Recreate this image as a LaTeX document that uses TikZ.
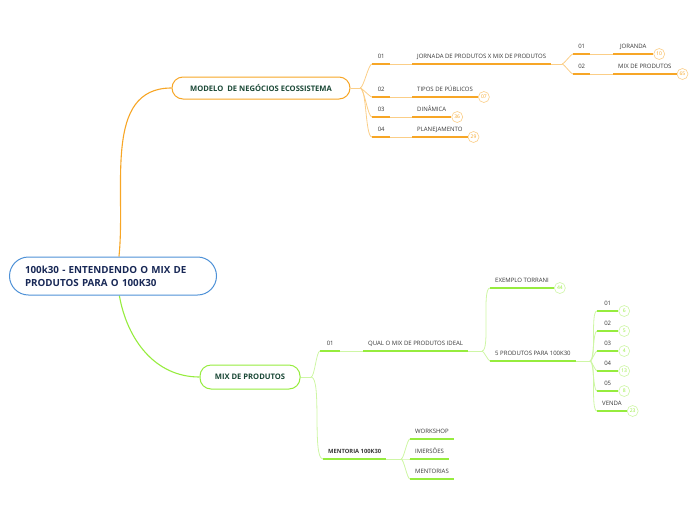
\documentclass[tikz,border=0pt]{standalone}
\usepackage{fontspec}
\setmainfont{Open Sans}
\usetikzlibrary{positioning}
\definecolor{orgline}{RGB}{247,166,38}
\definecolor{orglight}{RGB}{251,206,135}
\definecolor{grnline}{RGB}{150,236,62}
\definecolor{grnlight}{RGB}{206,246,165}
\definecolor{rootblue}{RGB}{78,145,215}
\definecolor{rootnavy}{RGB}{24,40,86}
\definecolor{boxgreen}{RGB}{26,72,54}
\definecolor{lbltext}{RGB}{55,55,55}
\pgfdeclarelayer{bg}
\pgfsetlayers{bg,main}
\begin{document}
\begin{tikzpicture}[
    x=1pt, y=-1pt,
    rootbox/.style={draw=rootblue, line width=1pt, rounded corners=19pt,
                    fill=white, align=left, text=rootnavy, text width=176pt,
                    minimum width=207pt, minimum height=38pt,
                    font=\bfseries\fontsize{9.8}{12.8}\selectfont},
    mainbox/.style={line width=1pt, rounded corners=11pt, fill=white,
                    text=boxgreen, minimum height=22pt,
                    font=\bfseries\fontsize{7.6}{9}\selectfont},
    lbl/.style={anchor=south west, inner xsep=5pt, inner ysep=5pt,
                text depth=0pt, text=lbltext,
                font=\fontsize{6}{7}\selectfont},
    cnto/.style={circle, draw=orglight, fill=white, text=orgline,
                 line width=.6pt, inner sep=0pt, minimum size=11pt,
                 anchor=west, font=\fontsize{5}{6}\selectfont},
    cntg/.style={cnto, draw=grnlight, text=grnline},
    ulo/.style={orgline, line width=1.6pt},
    ulg/.style={grnline, line width=1.6pt},
    lko/.style={orglight, line width=.8pt},
    lkg/.style={grnlight, line width=.8pt},
    fano/.style={orglight, line width=.8pt, looseness=.35},
    fang/.style={grnlight, line width=.8pt, looseness=.35},
]
\useasboundingbox (0,0) rectangle (696,520);

% Central topic and main branches
\node[rootbox] (root) at (113,276) {100k30 - ENTENDENDO O MIX DE\\PRODUTOS PARA O 100K30};
\node[mainbox, draw=orgline, minimum width=178pt] (modelo) at (261,88) {MODELO\ \ DE NEGÓCIOS ECOSSISTEMA};
\node[mainbox, draw=grnline, minimum width=100pt, minimum height=24pt] (mix) at (250,377) {MIX DE PRODUTOS};

% Orange branch
\coordinate (fanM) at (360,88);
\node[lbl, minimum width=18pt] (o1) at (372,64) {01};
\node[lbl] (jornada) at (412,64) {JORNADA DE PRODUTOS X MIX DE PRODUTOS};
\coordinate (fanJ) at (562,64);
\node[lbl, minimum width=17pt] (o11) at (573,54) {01};
\node[lbl, minimum width=40pt] (joranda) at (613,54) {JORANDA};
\node[cnto] (cjoranda) at (joranda.south east) {10};
\node[lbl, minimum width=17pt] (o12) at (573,74) {02};
\node[lbl] (mixprod) at (613,74) {MIX DE PRODUTOS};
\node[cnto] (cmixprod) at (mixprod.south east) {65};
\node[lbl, minimum width=18pt] (o2) at (372,97) {02};
\node[lbl] (tipos) at (412,97) {TIPOS DE PÚBLICOS};
\node[cnto] (ctipos) at (tipos.south east) {07};
\node[lbl, minimum width=18pt] (o3) at (372,117) {03};
\node[lbl] (dinamica) at (412,117) {DINÂMICA};
\node[cnto] (cdinamica) at (dinamica.south east) {36};
\node[lbl, minimum width=18pt] (o4) at (372,137) {04};
\node[lbl] (planej) at (412,137) {PLANEJAMENTO};
\node[cnto] (cplanej) at (planej.south east) {29};

% Green branch
\coordinate (fanX) at (311,377);
\node[lbl, minimum width=20pt] (g1) at (320,351) {01};
\node[lbl] (qual) at (363,351) {QUAL O MIX DE PRODUTOS IDEAL};
\coordinate (fanQ) at (482,351);
\node[lbl] (torrani) at (490,288) {EXEMPLO TORRANI};
\node[cntg] (ctorrani) at (torrani.south east) {44};
\node[lbl] (cinco) at (490,361) {5 PRODUTOS PARA 100K30};
\coordinate (fanP) at (590,361);
\foreach \i/\t/\c in {1/01/6, 2/02/5, 3/03/4, 4/04/13, 5/05/8, 6/VENDA/23} {
  \node[lbl, minimum width=21pt] (k\i) at (597,291+20*\i) {\t};
  \node[cntg] (ck\i) at (k\i.south east) {\c};
}
\node[lbl, font=\bfseries\fontsize{5.8}{7}\selectfont] (mentoria) at (323,459) {MENTORIA 100K30};
\coordinate (fanT) at (401,459);
\node[lbl] (workshop) at (410,439) {WORKSHOP};
\node[lbl] (imersoes) at (410,459) {IMERSÕES};
\node[lbl] (mentorias) at (410,479) {MENTORIAS};

\begin{pgfonlayer}{bg}
% Main connectors
\draw[orgline, line width=1.1pt] (root.73) to[out=84, in=180] (modelo.west);
\draw[grnline, line width=1.1pt] (root.-72) to[out=-80, in=180] (mix.west);

% Orange fans and links
\draw[fano] (modelo.east) -- (fanM);
\foreach \n in {o1,o2,o3,o4}
  \draw[fano] (fanM) to[out=0, in=180] (\n.south west);
\foreach \a/\b in {o1/jornada, o2/tipos, o3/dinamica, o4/planej, o11/joranda, o12/mixprod}
  \draw[lko] (\a.south east) -- (\b.south west);
\draw[fano] (jornada.south east) -- (fanJ);
\foreach \n in {o11,o12}
  \draw[fano] (fanJ) to[out=0, in=180] (\n.south west);

% Green fans and links
\draw[fang] (mix.east) -- (fanX);
\foreach \n in {g1,mentoria}
  \draw[fang] (fanX) to[out=0, in=180] (\n.south west);
\draw[lkg] (g1.south east) -- (qual.south west);
\draw[fang] (qual.south east) -- (fanQ);
\foreach \n in {torrani,cinco}
  \draw[fang] (fanQ) to[out=0, in=180] (\n.south west);
\draw[fang] (cinco.south east) -- (fanP);
\foreach \i in {1,...,6}
  \draw[fang] (fanP) to[out=0, in=180] (k\i.south west);
\draw[fang] (mentoria.south east) -- (fanT);
\foreach \n in {workshop,imersoes,mentorias}
  \draw[fang] (fanT) to[out=0, in=180] (\n.south west);
\end{pgfonlayer}

% Underlines
\foreach \n in {o1,jornada,o11,joranda,o12,mixprod,o2,tipos,o3,dinamica,o4,planej}
  \draw[ulo] (\n.south west) -- (\n.south east);
\foreach \n in {g1,qual,torrani,cinco,k1,k2,k3,k4,k5,k6,mentoria,workshop,imersoes,mentorias}
  \draw[ulg] (\n.south west) -- (\n.south east);
\end{tikzpicture}
\end{document}
